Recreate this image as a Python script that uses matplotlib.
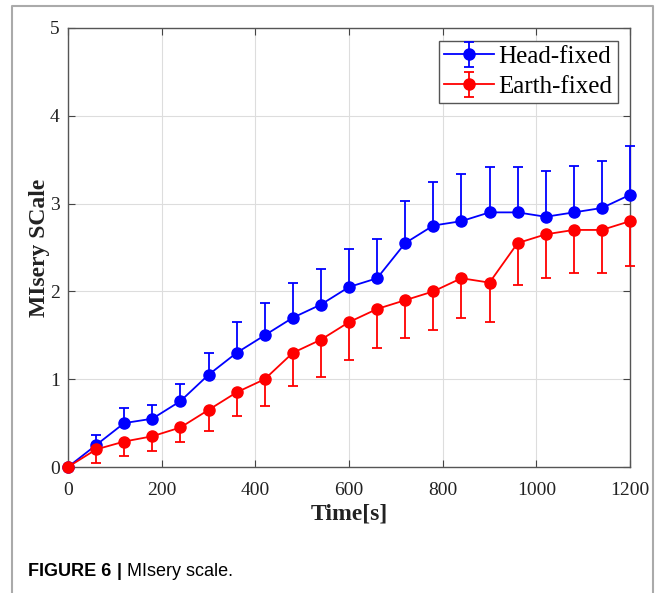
import numpy as np
import matplotlib
matplotlib.use("Agg")
import matplotlib.pyplot as plt
from matplotlib.lines import Line2D

# time points [s]
t = [0, 60, 120, 180, 240, 300, 360, 420, 480, 540, 600,
     660, 720, 780, 840, 900, 960, 1020, 1080, 1140, 1200]

# head-fixed mean and top of error bar
head = [0, 0.25, 0.50, 0.55, 0.75, 1.05, 1.30, 1.50, 1.70, 1.85, 2.05,
        2.15, 2.55, 2.75, 2.80, 2.90, 2.90, 2.85, 2.90, 2.95, 3.10]
head_top = [0, 0.37, 0.67, 0.71, 0.95, 1.30, 1.65, 1.87, 2.10, 2.26, 2.48,
            2.60, 3.03, 3.25, 3.34, 3.42, 3.42, 3.37, 3.43, 3.48, 3.66]

# earth-fixed mean and bottom of error bar
earth = [0, 0.20, 0.29, 0.35, 0.45, 0.65, 0.85, 1.00, 1.30, 1.45, 1.65,
         1.80, 1.90, 2.00, 2.15, 2.10, 2.55, 2.65, 2.70, 2.70, 2.80]
earth_bot = [0, 0.04, 0.13, 0.18, 0.28, 0.41, 0.58, 0.70, 0.92, 1.03, 1.215,
             1.36, 1.47, 1.56, 1.70, 1.65, 2.07, 2.15, 2.21, 2.21, 2.29]

head = np.array(head)
earth = np.array(earth)
head_up = np.array(head_top) - head
earth_dn = earth - np.array(earth_bot)
zeros = np.zeros(len(t))

serif = ['Liberation Serif', 'DejaVu Serif']

fig = plt.figure(figsize=(6.64, 5.93), dpi=100)
ax = fig.add_axes([68 / 664, 1 - 467 / 593, (630 - 68) / 664, (467 - 28) / 593])

kw = dict(marker='o', markersize=8, linewidth=1.3, capsize=3.5,
          elinewidth=1.3, capthick=1.3, clip_on=False, zorder=3)
ax.errorbar(t, head, yerr=[zeros, head_up], color='#0000ff',
            label='Head-fixed', **kw)
ax.errorbar(t, earth, yerr=[earth_dn, zeros], color='#ff0000',
            label='Earth-fixed', **kw)

ax.set_xlim(0, 1200)
ax.set_ylim(0, 5)
ax.set_xticks(np.arange(0, 1201, 200))
ax.set_yticks(np.arange(0, 6, 1))
ax.grid(True, color='#dddddd', linewidth=0.8)
ax.set_axisbelow(True)
ax.tick_params(direction='in', top=True, right=True, length=5,
               color='#444444', width=0.8)
ax.tick_params(axis='x', pad=11)
ax.tick_params(axis='y', pad=6)
for lab in ax.get_xticklabels() + ax.get_yticklabels():
    lab.set_family(serif)
    lab.set_fontsize(14)
    lab.set_color('#222222')
for sp in ax.spines.values():
    sp.set_color('#555555')
    sp.set_linewidth(1.0)

ax.set_xlabel('Time[s]', family=serif, fontsize=17, fontweight='bold',
              labelpad=3, color='#222222')
ax.set_ylabel('MIsery SCale', family=serif, fontsize=17, fontweight='bold',
              labelpad=0, color='#222222')

leg = ax.legend(loc='upper right', prop={'family': serif, 'size': 18},
                fancybox=False, framealpha=1, edgecolor='#555555',
                borderaxespad=0.5, handlelength=2.0, handletextpad=0.2,
                labelspacing=0.3, borderpad=0.2)
leg.get_frame().set_linewidth(1.0)

# outer frame of the figure panel
fig.add_artist(Line2D([12 / 664, 12 / 664, 653 / 664, 653 / 664],
                      [0, 1 - 6 / 593, 1 - 6 / 593, 0],
                      transform=fig.transFigure, color='#aaaaaa',
                      linewidth=1.5))

# caption
sans = ['Liberation Sans', 'DejaVu Sans']
cy = 1 - 572 / 593
t1 = fig.text(28 / 664, cy, 'FIGURE 6', family=sans, fontsize=13,
              fontweight='bold', va='center')
fig.canvas.draw()
r = fig.canvas.get_renderer()
x1 = t1.get_window_extent(r).x1 / fig.bbox.width
t2 = fig.text(x1 + 5 / 664, cy, '|', family=sans, fontsize=13,
              fontweight='bold', va='center')
x2 = t2.get_window_extent(r).x1 / fig.bbox.width
fig.text(x2 + 6 / 664, cy, 'MIsery scale.', family=sans, fontsize=13,
         va='center')

fig.savefig('out.png', dpi=100)
